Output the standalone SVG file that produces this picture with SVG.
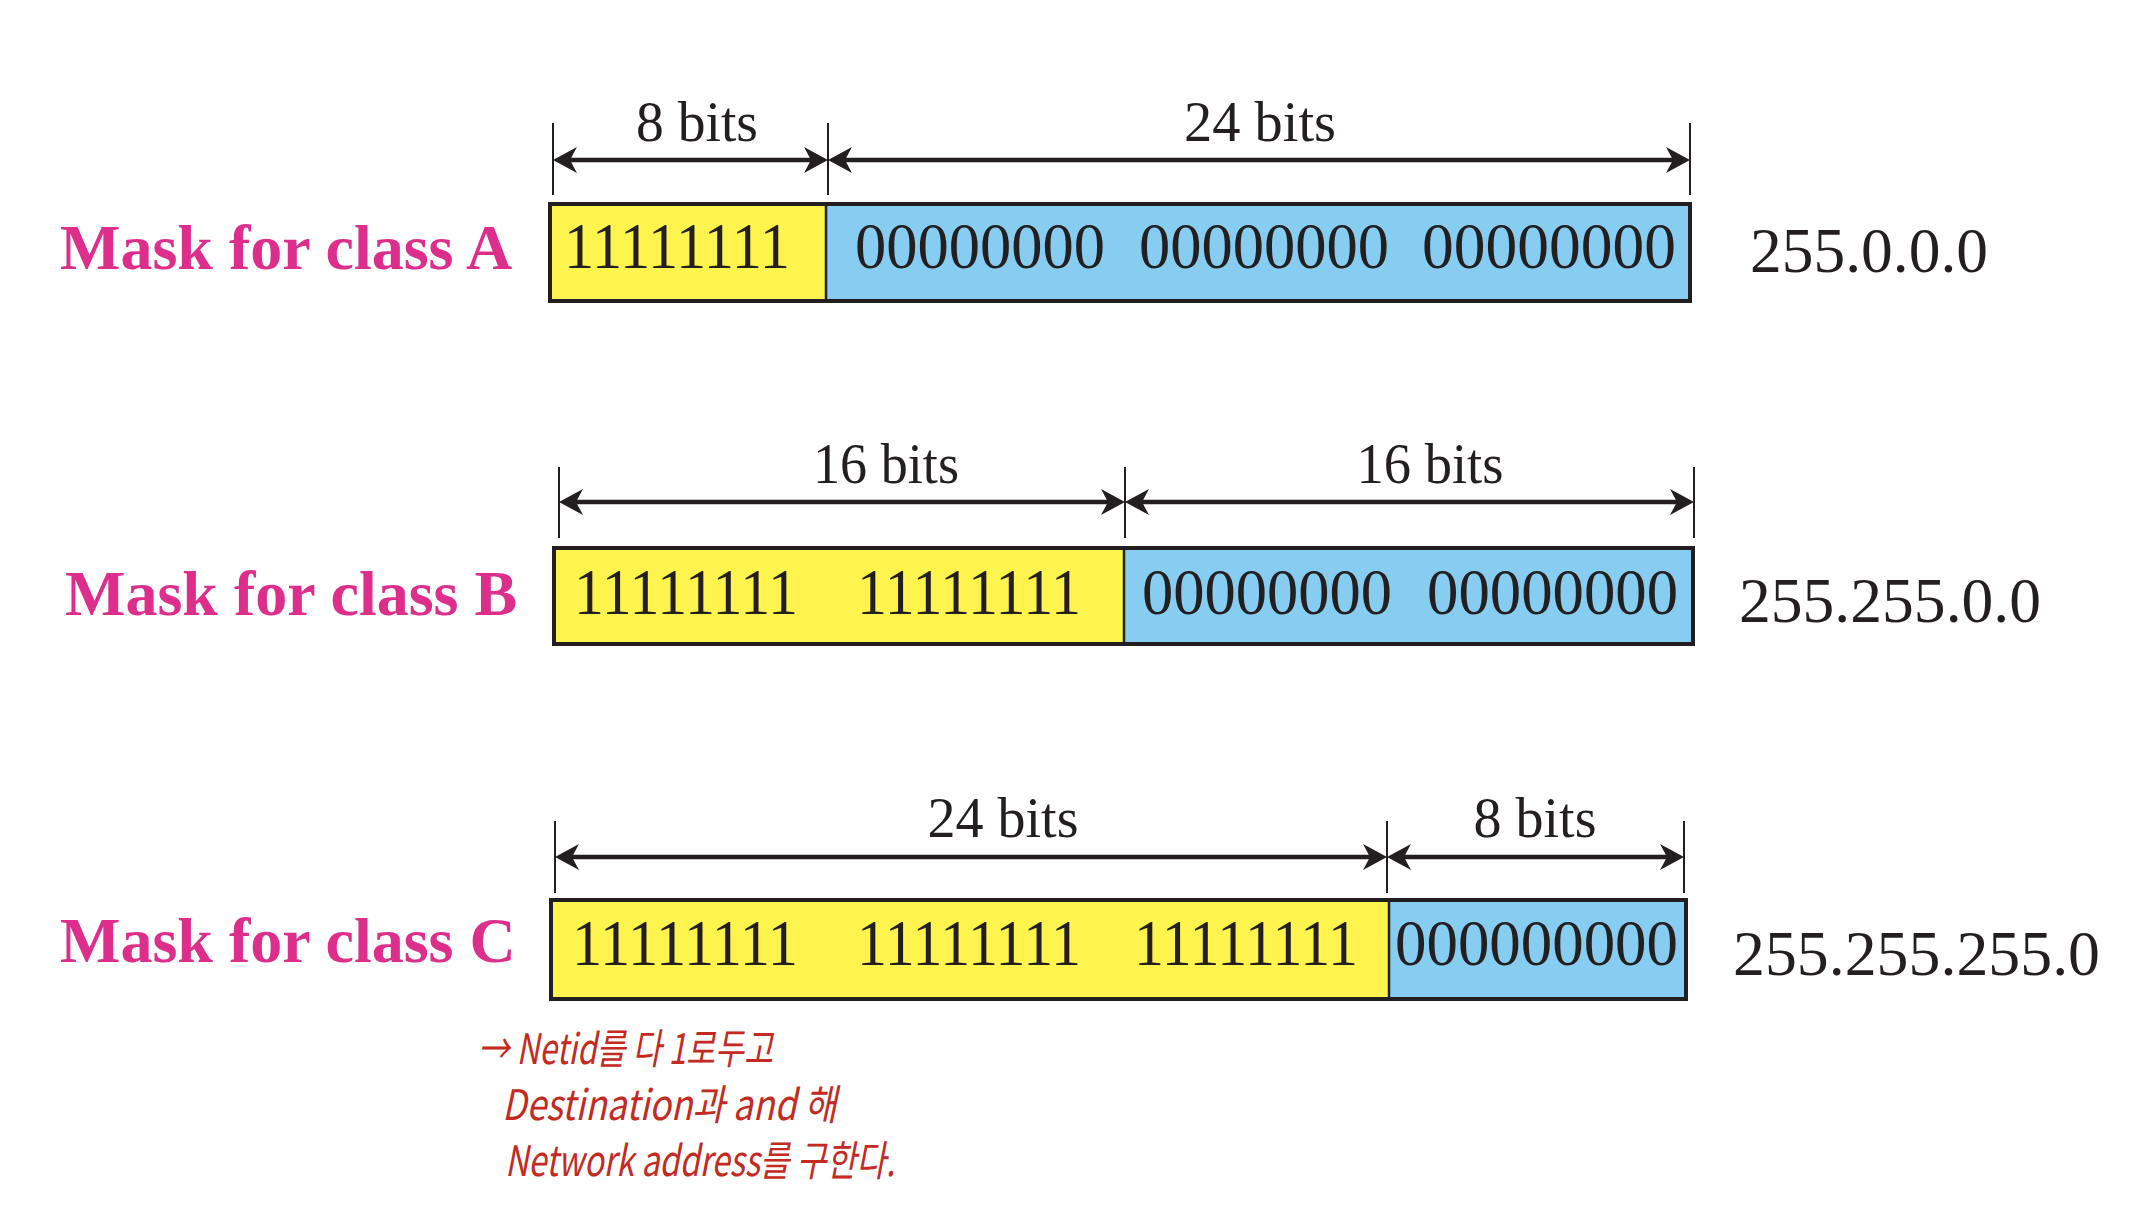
<svg xmlns="http://www.w3.org/2000/svg" width="2134" height="1218" viewBox="0 0 2134 1218">
<defs>
<marker id="ah" markerUnits="userSpaceOnUse" viewBox="0 0 24 26" refX="14" refY="13" markerWidth="24" markerHeight="26" orient="auto-start-reverse">
<path d="M0,0 L24,13 L0,26 L7,13 Z" fill="#231f20"/>
</marker>
<style>
.lbl{font-family:"Liberation Serif","Times New Roman",serif;font-weight:bold;font-size:64px;fill:#dd2e8b}
.bits{font-family:"Liberation Serif","Times New Roman",serif;font-size:57px;fill:#231f20;text-anchor:middle}
.dig{font-family:"Liberation Serif","Times New Roman",serif;font-size:66px;fill:#231f20}
.mask{font-family:"Liberation Serif","Times New Roman",serif;font-size:64px;fill:#231f20}
.y{fill:#fff34d}
.b{fill:#86cdf1}
.frame{fill:none;stroke:#231f20;stroke-width:4}
.split{stroke:#231f20;stroke-width:2.5}
.tick{stroke:#231f20;stroke-width:2}
.arr{stroke:#231f20;stroke-width:4.5;marker-start:url(#ah);marker-end:url(#ah)}
.hand{font-family:"Noto Sans CJK KR","Noto Sans",sans-serif;font-size:42px;fill:#c42a22;font-style:italic}
</style>
</defs>
<rect width="2134" height="1218" fill="#ffffff"/>

<g id="classA-label"><text class="lbl" x="60" y="269">Mask for class A</text></g>
<g id="classA-box">
<rect class="y" x="550" y="204" width="276" height="97"/>
<rect class="b" x="826" y="204" width="864" height="97"/>
<line class="split" x1="826" y1="204" x2="826" y2="301"/>
<rect class="frame" x="550" y="204" width="1140" height="97"/>
<text class="dig" x="564" y="268" textLength="226" lengthAdjust="spacingAndGlyphs">11111111</text>
<text class="dig" x="855" y="268" textLength="250" lengthAdjust="spacingAndGlyphs">00000000</text>
<text class="dig" x="1139" y="268" textLength="250" lengthAdjust="spacingAndGlyphs">00000000</text>
<text class="dig" x="1422" y="268" textLength="254" lengthAdjust="spacingAndGlyphs">00000000</text>
</g>
<g id="classA-mask"><text class="mask" x="1750" y="272" textLength="238" lengthAdjust="spacingAndGlyphs">255.0.0.0</text></g>

<g id="classB-label"><text class="lbl" x="65" y="615">Mask for class B</text></g>
<g id="classB-box">
<rect class="y" x="554" y="548" width="570" height="96"/>
<rect class="b" x="1124" y="548" width="569" height="96"/>
<line class="split" x1="1124" y1="548" x2="1124" y2="644"/>
<rect class="frame" x="554" y="548" width="1139" height="96"/>
<text class="dig" x="574" y="614" textLength="224" lengthAdjust="spacingAndGlyphs">11111111</text>
<text class="dig" x="857" y="614" textLength="224" lengthAdjust="spacingAndGlyphs">11111111</text>
<text class="dig" x="1142" y="614" textLength="250" lengthAdjust="spacingAndGlyphs">00000000</text>
<text class="dig" x="1427" y="614" textLength="251" lengthAdjust="spacingAndGlyphs">00000000</text>
</g>
<g id="classB-mask"><text class="mask" x="1739" y="622" textLength="302" lengthAdjust="spacingAndGlyphs">255.255.0.0</text></g>

<g id="classC-label"><text class="lbl" x="60" y="962">Mask for class C</text></g>
<g id="classC-box">
<rect class="y" x="551" y="900" width="838" height="99"/>
<rect class="b" x="1389" y="900" width="297" height="99"/>
<line class="split" x1="1389" y1="900" x2="1389" y2="999"/>
<rect class="frame" x="551" y="900" width="1135" height="99"/>
<text class="dig" x="572" y="965" textLength="226" lengthAdjust="spacingAndGlyphs">11111111</text>
<text class="dig" x="857" y="965" textLength="224" lengthAdjust="spacingAndGlyphs">11111111</text>
<text class="dig" x="1134" y="965" textLength="224" lengthAdjust="spacingAndGlyphs">11111111</text>
<text class="dig" x="1395" y="965" textLength="283" lengthAdjust="spacingAndGlyphs">000000000</text>
</g>
<g id="classC-mask"><text class="mask" x="1733" y="975" textLength="367" lengthAdjust="spacingAndGlyphs">255.255.255.0</text></g>

<g id="dimensions">
<line class="tick" x1="553" y1="123" x2="553" y2="195"/>
<line class="tick" x1="828" y1="123" x2="828" y2="195"/>
<line class="tick" x1="1690" y1="123" x2="1690" y2="195"/>
<line class="arr" x1="563" y1="160" x2="818" y2="160"/>
<line class="arr" x1="838" y1="160" x2="1680" y2="160"/>
<text class="bits" x="697" y="141" textLength="122" lengthAdjust="spacingAndGlyphs">8 bits</text>
<text class="bits" x="1260" y="141" textLength="152" lengthAdjust="spacingAndGlyphs">24 bits</text>

<line class="tick" x1="559" y1="467" x2="559" y2="538"/>
<line class="tick" x1="1125" y1="467" x2="1125" y2="538"/>
<line class="tick" x1="1694" y1="467" x2="1694" y2="538"/>
<line class="arr" x1="569" y1="502" x2="1115" y2="502"/>
<line class="arr" x1="1135" y1="502" x2="1684" y2="502"/>
<text class="bits" x="886" y="483" textLength="146" lengthAdjust="spacingAndGlyphs">16 bits</text>
<text class="bits" x="1430" y="483" textLength="147" lengthAdjust="spacingAndGlyphs">16 bits</text>

<line class="tick" x1="555" y1="821" x2="555" y2="893"/>
<line class="tick" x1="1387" y1="821" x2="1387" y2="893"/>
<line class="tick" x1="1684" y1="821" x2="1684" y2="893"/>
<line class="arr" x1="565" y1="857" x2="1377" y2="857"/>
<line class="arr" x1="1397" y1="857" x2="1674" y2="857"/>
<text class="bits" x="1003" y="837" textLength="151" lengthAdjust="spacingAndGlyphs">24 bits</text>
<text class="bits" x="1535" y="837" textLength="123" lengthAdjust="spacingAndGlyphs">8 bits</text>
</g>

<g id="annotation">
<text class="hand" x="478" y="1064" textLength="295" lengthAdjust="spacingAndGlyphs">→ Netid를 다 1로두고</text>
<text class="hand" x="502" y="1120" textLength="335" lengthAdjust="spacingAndGlyphs">Destination과 and 해</text>
<text class="hand" x="505" y="1176" textLength="390" lengthAdjust="spacingAndGlyphs">Network address를 구한다.</text>
</g>
</svg>
